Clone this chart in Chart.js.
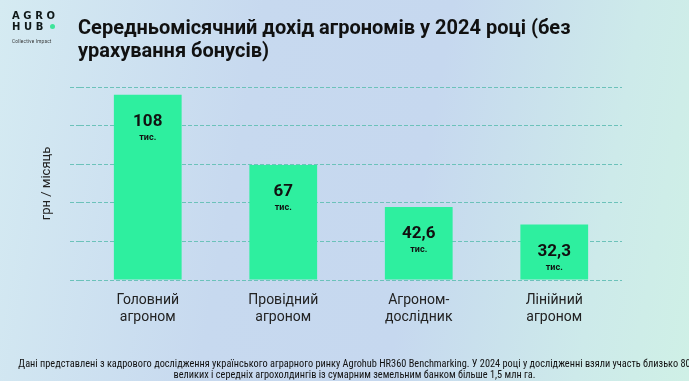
<!DOCTYPE html>
<html>
<head>
<meta charset="utf-8">
<script src="https://cdn.jsdelivr.net/npm/chart.js@4"></script>
<style>
  html, body { margin: 0; padding: 0; }
  body {
    width: 689px; height: 381px; overflow: hidden; position: relative;
    background: linear-gradient(100deg, #d5ebf2 0%, #c7d9ef 35%, #c6d8ef 60%, #cdeaea 85%, #cff0e6 100%);
    font-family: Roboto, "Noto Sans", sans-serif;
  }
  #wrap { position: absolute; left: 0; top: 0; width: 689px; height: 381px; }
  .logo { position: absolute; left: 12px; top: 10px; color: #0f1818; font-family: "DejaVu Sans", sans-serif; font-weight: bold; font-size: 10px; letter-spacing: 3.6px; line-height: 11px; }
  .logo .dot { display: inline-block; width: 5px; height: 5px; border-radius: 50%; background: #3ee49a; margin-left: -4px; vertical-align: 1px; }
  .logo small { display: block; font-family: Roboto, sans-serif; font-weight: 400; font-size: 4.6px; letter-spacing: 0.25px; margin-top: 4px; color: #333; }
  .title { position: absolute; left: 78px; top: 16px; font-weight: 700; font-size: 20px; line-height: 23px; color: #111; }
  .note { position: absolute; left: -10px; width: 729px; top: 359px; text-align: center; font-family: "Liberation Sans Narrow", "Roboto Condensed", sans-serif; font-size: 10.3px; line-height: 10.5px; color: #111; white-space: nowrap; }
</style>
</head>
<body>
<div id="wrap"><canvas id="myChart"></canvas></div>
<div class="logo">AGRO<br>HUB <span class="dot"></span><small>Collective Impact</small></div>
<div class="title">Середньомісячний дохід агрономів у 2024 році (без<br>урахування бонусів)</div>
<div class="note">Дані представлені з кадрового дослідження українського аграрного ринку Agrohub HR360 Benchmarking. У 2024 році у дослідженні взяли участь близько 80<br>великих і середніх агрохолдингів із сумарним земельним банком більше 1,5 млн га.</div>

<script>
  const categories = [['Головний', 'агроном'], ['Провідний', 'агроном'], ['Агроном-', 'дослідник'], ['Лінійний', 'агроном']];
  const values = [108, 67, 42.6, 32.3];
  const valueLabels = ['108', '67', '42,6', '32,3'];
  const unitLabel = 'тис.';
  const yMax = 112.5;
  const yStep = 22.5;

  // number + "тис." inside each bar
  const barLabels = {
    id: 'barLabels',
    afterDatasetsDraw(chart) {
      const ctx = chart.ctx;
      const meta = chart.getDatasetMeta(0);
      ctx.save();
      ctx.textAlign = 'center';
      ctx.textBaseline = 'middle';
      ctx.fillStyle = '#111';
      meta.data.forEach((bar, i) => {
        ctx.font = 'bold 17px Roboto';
        ctx.fillText(valueLabels[i], bar.x, bar.y + 27);
        ctx.font = 'bold 9px Roboto';
        ctx.fillText(unitLabel, bar.x, bar.y + 43);
      });
      ctx.restore();
    }
  };

  const ctx = document.getElementById('myChart');
  ctx.width = 689;
  ctx.height = 381;

  new Chart(ctx, {
    type: 'bar',
    data: {
      labels: categories,
      datasets: [{
        data: values,
        backgroundColor: '#2eef9f',
        barPercentage: 0.5,
        categoryPercentage: 1
      }]
    },
    options: {
      responsive: false,
      animation: false,
      events: [],
      layout: { padding: { left: 35, right: 67, top: 87, bottom: 41 } },
      plugins: {
        legend: { display: false },
        tooltip: { enabled: false }
      },
      scales: {
        x: {
          grid: { display: false, drawTicks: false },
          border: { display: false },
          ticks: { color: '#222', font: { family: 'Roboto', size: 14 }, padding: 12, maxRotation: 0 },
          afterFit(scale) { scale.height = 60; }
        },
        y: {
          min: 0,
          max: yMax,
          border: { display: false, dash: [4, 2] },
          grid: {
            color: '#6cc2ba',
            lineWidth: 1,
            tickLength: 10,
            tickBorderDash: [4, 2],
            tickColor: '#6cc2ba'
          },
          ticks: { display: false, stepSize: yStep },
          title: {
            display: true,
            text: 'грн / місяць',
            color: '#222',
            font: { family: 'Roboto', size: 13 },
            padding: 4
          },
          afterFit(scale) { scale.width = 45; }
        }
      }
    },
    plugins: [barLabels]
  });
</script>
</body>
</html>
